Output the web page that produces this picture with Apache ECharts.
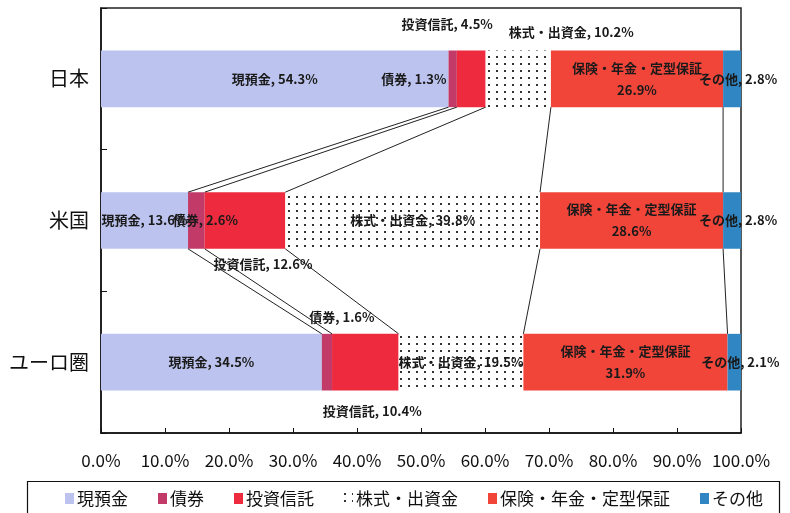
<!DOCTYPE html>
<html>
<head>
<meta charset="utf-8">
<script src="https://cdn.jsdelivr.net/npm/echarts@6/dist/echarts.min.js"></script>
<style>html,body{margin:0;padding:0;background:#fff}#c{width:790px;height:513px}</style>
</head>
<body>
<div id="c"></div>
<script>
const categories = ['日本', '米国', 'ユーロ圏'];
const seriesNames = ['現預金', '債券', '投資信託', '株式・出資金', '保険・年金・定型保証', 'その他'];
const genyokin = [54.3, 13.6, 34.5];
const saiken = [1.3, 2.6, 1.6];
const toushin = [4.5, 12.6, 10.4];
const kabushiki = [10.2, 39.8, 19.5];
const hoken = [26.9, 28.6, 31.9];
const sonota = [2.8, 2.8, 2.1];
const xTicks = [0, 10, 20, 30, 40, 50, 60, 70, 80, 90, 100];

const allValues = [genyokin, saiken, toushin, kabushiki, hoken, sonota];
const colors = ['#bcc3ee', '#c23a68', '#ee2b3e', '#ffffff', '#f1453a', '#2f86c2'];
const FONT = "'Noto Sans CJK JP', sans-serif";

// label placement overrides [seriesIndex-categoryIndex]
const labelOverrides = {
  '1-0': { position: 'left', distance: 2 },
  '2-0': { position: 'top', distance: 15, offset: [-24, 0] },
  '3-0': { position: 'top', distance: 7, offset: [53, 0] },
  '1-1': { position: 'inside', offset: [9, 0] },
  '2-1': { position: 'bottom', distance: 4, offset: [18, 0] },
  '1-2': { position: 'top', distance: 6, offset: [15, 0] },
  '2-2': { position: 'bottom', distance: 10, offset: [7, 0] }
};

const decal = {
  symbol: 'rect',
  symbolSize: 1,
  color: '#333',
  dashArrayX: [2, 6],
  dashArrayY: [2, 5],
  rotation: 0
};

const barSeries = seriesNames.map((name, si) => ({
  name: name,
  type: 'bar',
  stack: 'total',
  barWidth: '40%',
  itemStyle: si === 3 ? { color: '#ffffff', decal: decal } : { color: colors[si] },
  label: {
    show: true,
    position: 'inside',
    color: '#1a1a1a',
    fontSize: 13,
    fontWeight: 'bold',
    fontFamily: FONT,
    lineHeight: 22,
    formatter: p => {
      const v = p.value.toFixed(1) + '%';
      if (si === 4) return name + '\n' + v;
      return name + ', ' + v;
    }
  },
  data: allValues[si].map((v, ci) => {
    const o = labelOverrides[si + '-' + ci];
    const item = { value: v };
    if (o) item.label = o;
    if (si === 5) item.label = { offset: [6, 0] };
    return item;
  }),
  z: 2
}));

// connector lines between bar segment boundaries
const connData = [];
for (let ci = 0; ci < categories.length - 1; ci++) {
  let c1 = 0, c2 = 0;
  for (let si = 0; si < allValues.length - 1; si++) {
    c1 += allValues[si][ci];
    c2 += allValues[si][ci + 1];
    connData.push([c1, ci, c2, ci + 1]);
  }
}

const connSeries = {
  type: 'custom',
  name: 'conn',
  silent: true,
  z: 3,
  encode: { x: [0, 2], y: [1, 3] },
  renderItem: function (params, api) {
    const p1 = api.coord([api.value(0), api.value(1)]);
    const p2 = api.coord([api.value(2), api.value(3)]);
    const band = api.size([0, 1])[1];
    const hh = band * 0.4 / 2;
    return {
      type: 'line',
      shape: { x1: p1[0], y1: p1[1] + hh, x2: p2[0], y2: p2[1] - hh },
      style: { stroke: '#222', lineWidth: 1 }
    };
  },
  data: connData
};

const chart = echarts.init(document.getElementById('c'), null, { renderer: 'canvas' });
chart.setOption({
  animation: false,
  backgroundColor: '#fff',
  grid: { left: 101, right: 49, top: 8, bottom: 80, show: true, borderColor: '#222', borderWidth: 1.5 },
  xAxis: {
    type: 'value', min: 0, max: 100, interval: 10,
    axisLine: { show: true, lineStyle: { color: '#111', width: 1.5 } },
    axisTick: { show: true, inside: true, length: 5, lineStyle: { color: '#111' } },
    splitLine: { show: false },
    axisLabel: {
      color: '#111', fontSize: 17, fontFamily: FONT, margin: 19,
      formatter: v => xTicks.includes(v) ? v.toFixed(1) + '%' : ''
    }
  },
  yAxis: {
    type: 'category', inverse: true, data: categories,
    axisLine: { show: true, lineStyle: { color: '#111', width: 1.5 } },
    axisTick: { show: true, inside: true, length: 6, lineStyle: { color: '#111' } },
    axisLabel: { color: '#111', fontSize: 20, fontFamily: FONT, margin: 12 }
  },
  legend: {
    data: seriesNames,
    left: 60, top: 485,
    itemWidth: 9, itemHeight: 11, itemGap: 30,
    icon: 'rect',
    textStyle: { fontSize: 17, color: '#111', fontFamily: FONT, padding: [0, 0, 0, -2] }
  },
  graphic: [{
    type: 'rect', left: 25, top: 479, silent: true,
    shape: { width: 752, height: 50 },
    style: { fill: 'none', stroke: '#111', lineWidth: 1.2 }
  }],
  series: barSeries.concat([connSeries])
});
</script>
</body>
</html>
